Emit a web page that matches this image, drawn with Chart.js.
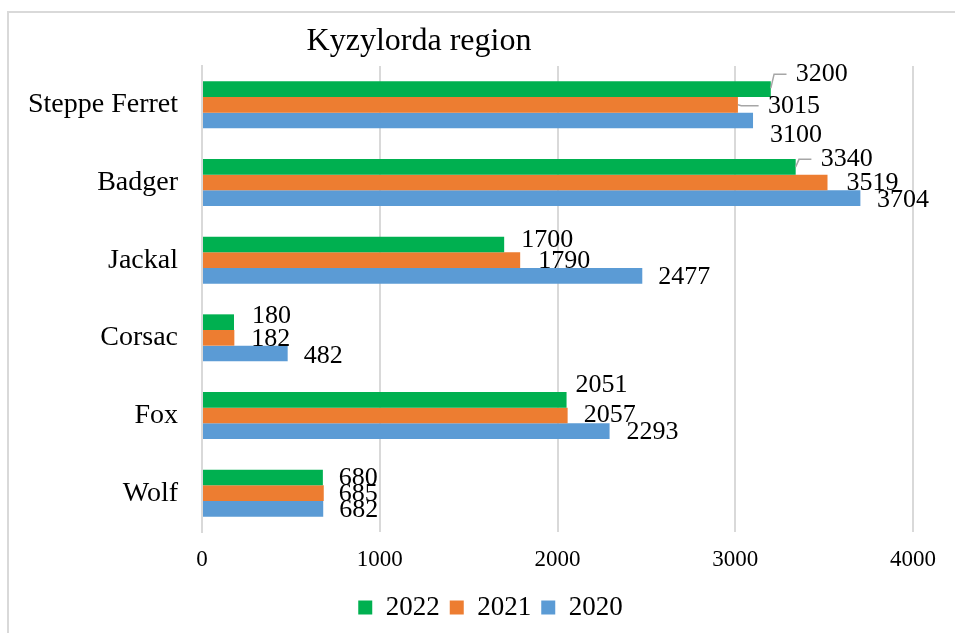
<!DOCTYPE html>
<html>
<head>
<meta charset="utf-8">
<script src="https://cdn.jsdelivr.net/npm/chart.js@4.4.1/dist/chart.umd.min.js"></script>
<style>
    body { margin: 0; background: #fff; overflow: hidden; }
    #wrap { position: relative; width: 955px; height: 633px; overflow: hidden; }
    #frame {
        position: absolute; left: 7px; top: 11px; width: 1000px; height: 700px;
        border: 2px solid #d9d9d9; box-sizing: border-box;
    }
    #myChart { position: absolute; left: 0; top: 0; }
</style>
</head>
<body>
<div id="wrap">
    <div id="frame"></div>
    <canvas id="myChart" width="955" height="633"></canvas>
</div>
<script>
// data
const chartTitle = 'Kyzylorda region';
const categories = ['Steppe Ferret', 'Badger', 'Jackal', 'Corsac', 'Fox', 'Wolf'];
const seriesNames = ['2022', '2021', '2020'];
const values2022 = [3200, 3340, 1700, 180, 2051, 680];
const values2021 = [3015, 3519, 1790, 182, 2057, 685];
const values2020 = [3100, 3704, 2477, 482, 2293, 682];
const xTicks = [0, 1000, 2000, 3000, 4000];

// label nudges from the bar end: [dx, dy, leader line]
const nudge2022 = [[25, -15, true], [25, -7.5, true], [17, -4], [18, -6], [9, -15], [16, 1]];
const nudge2021 = [[30, 1, true], [19, 0.5], [18, 1], [17, 1], [16, 0], [15, 1]];
const nudge2020 = [[17, 15], [16.5, 2.5], [16, 1], [16, 3], [17, 1], [16, 1]];

const colors = ['#00B050', '#ED7D31', '#5B9BD5'];
const serif = "'Liberation Serif', 'Times New Roman', serif";

document.addEventListener('DOMContentLoaded', function() {
    const ctx = document.getElementById('myChart').getContext('2d');
    const allValues = [values2022, values2021, values2020];
    const allNudges = [nudge2022, nudge2021, nudge2020];

    const chartData = {
        labels: categories,
        datasets: seriesNames.map(function(name, i) {
            return {
                label: name,
                data: allValues[i],
                backgroundColor: colors[i],
                borderWidth: 0,
                barPercentage: 1,
                categoryPercentage: 0.605,
            };
        }),
    };

    // title drawn over the plot, excel puts it off-centre
    const titlePlugin = {
        id: 'titleText',
        afterLayout: function(chart) {
            // legend sits a bit right of the canvas centre
            chart.legend.left += 34;
            chart.legend.right += 34;
        },
        afterDraw: function(chart) {
            const c = chart.ctx;
            c.save();
            c.font = '32px ' + serif;
            c.fillStyle = '#000';
            c.textAlign = 'center';
            c.textBaseline = 'alphabetic';
            c.fillText(chartTitle, 419, 49.5);
            c.restore();
        }
    };

    // data labels, some with leader lines
    const labelPlugin = {
        id: 'barLabels',
        afterDatasetsDraw: function(chart) {
            const c = chart.ctx;
            c.save();
            c.font = '26px ' + serif;
            c.fillStyle = '#000';
            c.textAlign = 'left';
            c.textBaseline = 'middle';
            chart.data.datasets.forEach(function(ds, i) {
                const meta = chart.getDatasetMeta(i);
                meta.data.forEach(function(bar, j) {
                    const n = allNudges[i][j];
                    const tx = bar.x + n[0];
                    const ty = bar.y + n[1];
                    if (n[2]) {
                        c.strokeStyle = '#a6a6a6';
                        c.lineWidth = 1.5;
                        c.beginPath();
                        c.moveTo(bar.x, bar.y + (n[1] < -10 ? -1 : 0));
                        c.lineTo(bar.x + 3.3, ty);
                        c.lineTo(tx - 9.3, ty);
                        c.stroke();
                    }
                    c.fillText(String(ds.data[j]), tx, ty);
                });
            });
            c.restore();
        }
    };

    const config = {
        type: 'bar',
        data: chartData,
        plugins: [labelPlugin, titlePlugin],
        options: {
            indexAxis: 'y',
            responsive: false,
            animation: false,
            devicePixelRatio: 1,
            layout: {
                padding: { top: 66, right: 42, bottom: 2, left: 0 },
            },
            plugins: {
                title: { display: false },
                tooltip: { enabled: false },
                legend: {
                    position: 'bottom',
                    labels: {
                        boxWidth: 14,
                        boxHeight: 14,
                        padding: 10,
                        color: '#000',
                        font: { family: serif, size: 27 },
                    },
                },
            },
            scales: {
                x: {
                    min: 0,
                    max: 4000,
                    afterBuildTicks: function(scale) {
                        scale.ticks = xTicks.map(function(v) { return { value: v }; });
                    },
                    afterFit: function(scale) {
                        scale.height = 52;
                    },
                    grid: {
                        color: '#d9d9d9',
                        lineWidth: 2,
                        drawTicks: false,
                    },
                    border: { display: false },
                    ticks: {
                        padding: 14,
                        color: '#000',
                        font: { family: serif, size: 23 },
                        maxRotation: 0,
                        callback: function(value) {
                            return String(value);
                        },
                    },
                },
                y: {
                    afterFit: function(scale) {
                        scale.width = 202;
                    },
                    grid: { display: false, drawTicks: false },
                    border: { display: true, color: '#d9d9d9', width: 2 },
                    ticks: {
                        padding: 24,
                        color: '#000',
                        font: { family: serif, size: 28 },
                    },
                },
            },
        },
    };

    const myChart = new Chart(ctx, config);
});
</script>
</body>
</html>
